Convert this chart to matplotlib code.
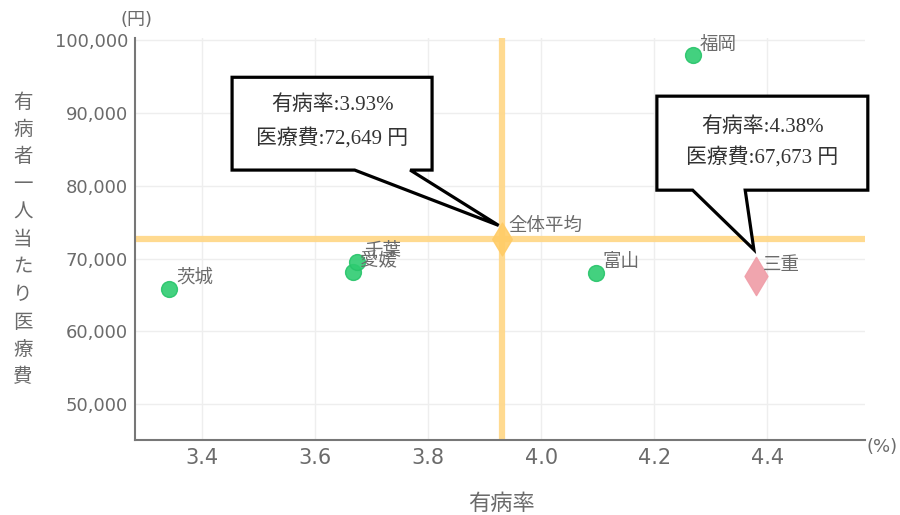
import matplotlib
matplotlib.use("Agg")
import matplotlib.pyplot as plt
from matplotlib.patches import Polygon
from matplotlib.ticker import FuncFormatter

plt.rcParams['font.family'] = ['DejaVu Sans', 'Noto Sans CJK JP']

# data
prefs = ["茨城", "愛媛", "千葉", "富山", "福岡"]
rates = [3.342, 3.667, 3.674, 4.097, 4.269]
costs = [65890, 68220, 69590, 68080, 97950]
avg_label = "全体平均"
avg_rate = 3.93
avg_cost = 72649
hl_label = "三重"
hl_rate = 4.38
hl_cost = 67673
xticks = [3.4, 3.6, 3.8, 4.0, 4.2, 4.4]
yticks = [50000, 60000, 70000, 80000, 90000, 100000]

gray = "#6b6b6b"
avg_color = "#FFD88A"

fig = plt.figure(figsize=(9, 5.15), dpi=100)
ax = fig.add_axes([0.15, 0.1456, 0.811, 0.78])
ax.set_xlim(3.281, 4.573)
ax.set_ylim(45070, 100300)

ax.set_xticks(xticks)
ax.set_yticks(yticks)
ax.yaxis.set_major_formatter(FuncFormatter(lambda v, p: f"{int(v):,}"))
ax.xaxis.set_major_formatter(FuncFormatter(lambda v, p: f"{v:.1f}"))
ax.tick_params(axis='y', length=0, labelsize=13, colors=gray, pad=5)
ax.tick_params(axis='x', length=0, labelsize=15, colors=gray, pad=6)
ax.grid(True, color="#eeeeee", linewidth=1)
ax.set_axisbelow(True)
for s in ["top", "right"]:
    ax.spines[s].set_visible(False)
for s in ["left", "bottom"]:
    ax.spines[s].set_color("#777777")
    ax.spines[s].set_linewidth(1.5)

# average lines
ax.axhline(avg_cost, color=avg_color, linewidth=4.5, alpha=0.95, zorder=2)
ax.axvline(avg_rate, color=avg_color, linewidth=4.5, alpha=0.95, zorder=2)

# points
ax.scatter(rates, costs, s=130, color="#2ecc71", alpha=0.9, edgecolors="#27c46a", linewidths=1, zorder=4)
ax.scatter([avg_rate], [avg_cost], s=280, marker="d", color="#FFCC66", alpha=0.9, zorder=4)
ax.scatter([hl_rate], [hl_cost], s=380, marker="d", color="#F0A0AA", alpha=0.95, zorder=4)

lab_kw = dict(textcoords="offset points", fontsize=13.3, color=gray,
              family=['Noto Sans CJK JP'], zorder=5)
for name, x, y in zip(prefs, rates, costs):
    ax.annotate(name, (x, y), xytext=(5, 4), **lab_kw)
ax.annotate(avg_label, (avg_rate, avg_cost), xytext=(5, 6), **lab_kw)
ax.annotate(hl_label, (hl_rate, hl_cost), xytext=(5, 4), **lab_kw)

# axis unit labels
fig.text(136/900, 1 - 20/515, "(円)", ha="center", va="center", fontsize=13,
         color=gray, family=['DejaVu Sans', 'Noto Sans CJK JP'])
fig.text(882/900, 1 - 447/515, "(%)", ha="center", va="center", fontsize=13,
         color=gray)
fig.text(501/900, 1 - 503/515, "有病率", ha="center", va="center", fontsize=16,
         color=gray, family=['Noto Sans CJK JP'])
ylab = "有病者一人当たり医療費"
for i, ch in enumerate(ylab):
    fig.text(23/900, 1 - (102 + i * 27.5)/515, ch, ha="center", va="center",
             fontsize=14, color=gray, family=['Noto Sans CJK JP'])

# callouts
fig.canvas.draw()
def callout(box, tail, tip_data, tip_off, lines, pos):
    x0, x1, y0, y1 = box
    tx = ax.transData.transform(tip_data)
    tx = (tx[0] + tip_off[0], tx[1] + tip_off[1])
    tip = ax.transAxes.inverted().transform(tx)
    pts = [(x0, y1), (x1, y1), (x1, y0), (tail[1], y0), tuple(tip), (tail[0], y0), (x0, y0)]
    poly = Polygon(pts, closed=True, transform=ax.transAxes, facecolor="white",
                   edgecolor="black", linewidth=2.3, joinstyle="miter", zorder=6,
                   clip_on=False)
    ax.add_patch(poly)
    cx = (x0 + x1) / 2
    h = y1 - y0
    for ln, p in zip(lines, pos):
        ax.text(cx, y1 - p * h, ln, transform=ax.transAxes, ha="center", va="center",
                fontsize=15, color="#333333",
                family=['Liberation Serif', 'Noto Sans CJK JP'], zorder=7)

callout((0.133, 0.407, 0.672, 0.903), (0.301, 0.377), (avg_rate, avg_cost), (-3, 14),
        [f"有病率:{avg_rate:.2f}%", f"医療費:{avg_cost:,} 円"], (0.30, 0.665))
callout((0.715, 1.004, 0.622, 0.856), (0.764, 0.836), (hl_rate, hl_cost), (-2, 26),
        [f"有病率:{hl_rate:.2f}%", f"医療費:{hl_cost:,} 円"], (0.33, 0.66))

fig.savefig("out.png", dpi=100)
